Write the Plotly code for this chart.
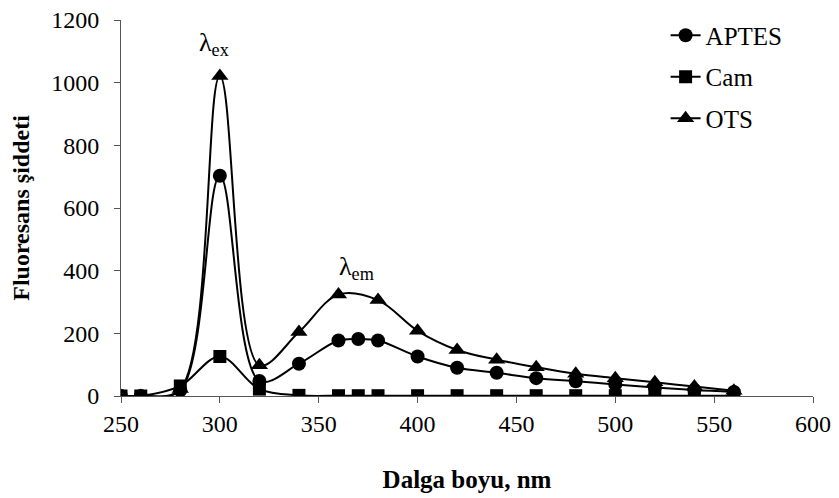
import plotly.graph_objects as go

# Data
x_aptes = [250, 260, 280, 300, 320, 340, 360, 370, 380, 400, 420, 440, 460, 480, 500, 520, 540, 560]
y_aptes = [0, 0, 18, 703, 48, 103, 177, 182, 177, 126, 90, 74, 57, 47, 37, 27, 19, 13]

x_cam = [250, 260, 280, 300, 320, 340, 360, 370, 380, 400, 420, 440, 460, 480, 500, 520, 540, 560]
y_cam = [0, 0, 32, 126, 22, 2, 1, 1, 1, 1, 1, 1, 1, 1, 1, 1, 1, 1]

x_ots = [250, 260, 280, 300, 320, 340, 360, 380, 400, 420, 440, 460, 480, 500, 520, 540, 560]
y_ots = [0, 0, 22, 1021, 98, 204, 324, 306, 208, 147, 116, 92, 71, 57, 44, 30, 17]

x_ticks = [250, 300, 350, 400, 450, 500, 550, 600]
y_ticks = [0, 200, 400, 600, 800, 1000, 1200]

FONT = "Liberation Serif"

fig = go.Figure()
series = [
    ("APTES", x_aptes, y_aptes, "circle", 14),
    ("Cam", x_cam, y_cam, "square", 13),
    ("OTS", x_ots, y_ots, "triangle-up", 15),
]
for name, xs, ys, sym, sz in series:
    fig.add_trace(go.Scatter(
        x=xs, y=ys, name=name, mode="lines+markers",
        line=dict(color="black", width=2, shape="spline", smoothing=1),
        marker=dict(symbol=sym, size=sz, color="black"),
        legendgroup=name,
    ))

fig.add_annotation(x=297, y=1122, text="λ<sub>ex</sub>", showarrow=False,
                   font=dict(family=FONT, size=26, color="black"))
fig.add_annotation(x=369, y=410, text="λ<sub>em</sub>", showarrow=False,
                   font=dict(family=FONT, size=26, color="black"))

fig.update_layout(
    width=839, height=498,
    margin=dict(l=121, r=26, t=13, b=102),
    plot_bgcolor="white", paper_bgcolor="white",
    font=dict(family=FONT, size=24, color="black"),
    showlegend=True,
    legend=dict(x=0.787, y=1.02, xanchor="left", yanchor="top",
                font=dict(family=FONT, size=25, color="black"),
                bgcolor="rgba(0,0,0,0)", tracegroupgap=6,
                itemwidth=30),
    xaxis=dict(range=[250, 600], tickvals=x_ticks, ticks="outside", ticklen=6,
               tickcolor="#555", showline=True, linecolor="#555", linewidth=1,
               showgrid=False, zeroline=False, ticklabelstandoff=0, automargin=False,
               tickfont=dict(family=FONT, size=24),
               title=dict(text="<b>Dalga boyu, nm</b>", standoff=34,
                          font=dict(family=FONT, size=25))),
    yaxis=dict(range=[0, 1200], tickvals=y_ticks, ticks="outside", ticklen=6,
               tickcolor="#555", showline=True, linecolor="#555", linewidth=1,
               showgrid=False, zeroline=False, ticklabelstandoff=10, automargin=False,
               tickfont=dict(family=FONT, size=24),
               title=dict(text="<b>Fluoresans şiddeti</b>", standoff=14,
                          font=dict(family=FONT, size=24))),
)

fig.write_html("out.html")
